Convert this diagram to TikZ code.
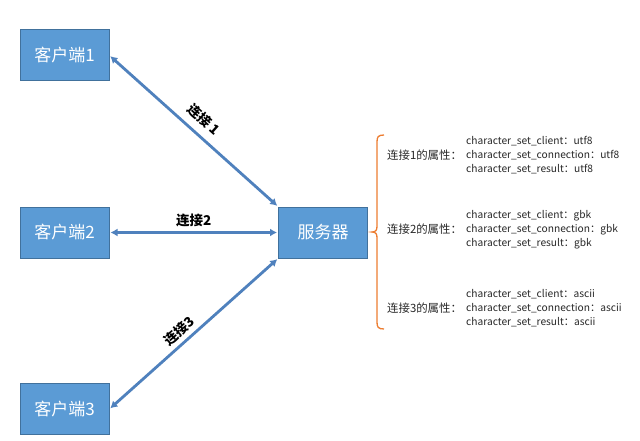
\documentclass[tikz,border=0pt]{standalone}
\usepackage{fontspec}
\setmainfont{Noto Sans CJK SC}
\usetikzlibrary{arrows.meta}
\definecolor{boxfill}{RGB}{91,155,213}
\definecolor{boxline}{RGB}{65,113,156}
\definecolor{arrowc}{RGB}{79,129,189}
\definecolor{bracec}{RGB}{237,125,49}
\definecolor{txt}{RGB}{40,40,40}
\begin{document}
\begin{tikzpicture}[x=1pt,y=-1pt,
  box/.style={draw=boxline, line width=1pt, fill=boxfill, minimum width=89pt, minimum height=51pt, inner sep=0pt, text=white, font=\fontsize{17}{20}\selectfont},
  conn/.style={draw=arrowc, line width=2.8pt, {Latex[length=7pt,width=8pt]}-{Latex[length=7pt,width=8pt]}, shorten <=1pt, shorten >=1pt},
  clabel/.style={font=\bfseries\fontsize{13.5}{16}\selectfont, text=black},
  prop/.style={anchor=west, align=left, font=\fontsize{10.2}{14}\selectfont, inner sep=0pt, text=txt},
  plabel/.style={anchor=west, font=\fontsize{11.4}{14}\selectfont, inner sep=0pt, text=txt}]
\useasboundingbox[fill=white] (0,0) rectangle (640,441);
\node[box] (c1) at (64.5,55.5) {客户端1};
\node[box] (c2) at (64.5,232.5) {客户端2};
\node[box] (c3) at (64.5,409) {客户端3};
\node[box] (srv) at (323,232.5) {服务器};
\draw[conn] (c1.east) -- (srv.north west) node[clabel, sloped, above=4pt, pos=0.5] {连接 1};
\draw[conn] (c2.east) -- (srv.west) node[clabel, above=1pt, pos=0.5] {连接2};
\draw[conn] (c3.east) -- (srv.south west) node[clabel, sloped, above=0pt, pos=0.46] {连接3};
\draw[bracec, line width=1.3pt] (384,135) .. controls (378,135) and (377,137) .. (377,142) -- (377,226) .. controls (377,230) and (376,232) .. (372,232) .. controls (376,232) and (377,234) .. (377,238) -- (377,322) .. controls (377,327) and (378,329) .. (384,329);
\node[plabel] (g1) at (387,155) {连接1的属性：};
\node[prop] (p1) at (466,155) {character\_set\_client：utf8\\character\_set\_connection：utf8\\character\_set\_result：utf8};
\node[plabel] (g2) at (387,229.5) {连接2的属性：};
\node[prop] (p2) at (466,229.5) {character\_set\_client：gbk\\character\_set\_connection：gbk\\character\_set\_result：gbk};
\node[plabel] (g3) at (387,308) {连接3的属性：};
\node[prop] (p3) at (466,308) {character\_set\_client：ascii\\character\_set\_connection：ascii\\character\_set\_result：ascii};
\end{tikzpicture}
\end{document}
